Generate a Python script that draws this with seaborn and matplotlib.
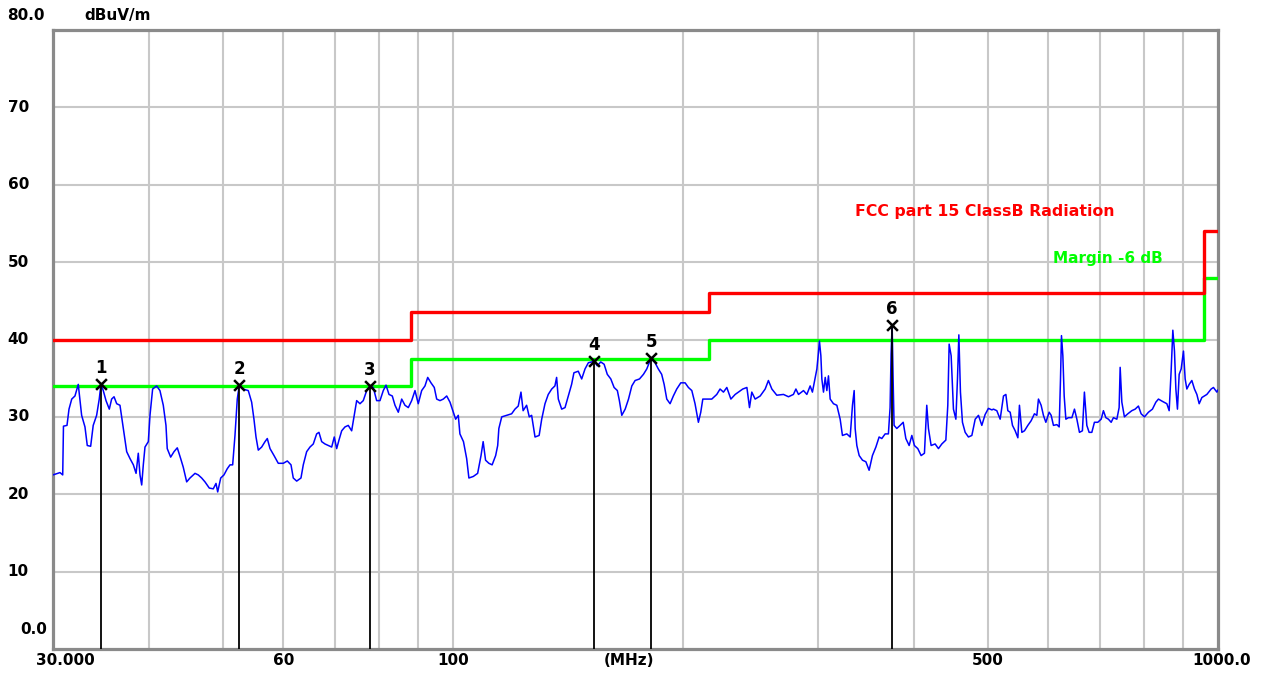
import matplotlib
matplotlib.use('Agg')
import matplotlib.pyplot as plt
from matplotlib.ticker import NullLocator
import seaborn as sns
import pandas as pd

# measured trace, frequency in MHz and level in dBuV/m
trace_freq = [
    30.00, 30.64, 30.89, 30.96, 31.29, 31.48, 31.74, 32.05, 32.37, 32.70,
    33.03, 33.26, 33.60, 33.86, 34.21, 34.48, 34.66, 34.90, 35.19, 35.54,
    35.79, 36.05, 36.34, 36.70, 37.07, 37.45, 37.83, 38.21, 38.52, 38.78,
    38.98, 39.18, 39.37, 39.57, 39.97, 40.17, 40.49, 40.98, 41.39, 41.81,
    42.15, 42.31, 42.75, 43.18, 43.61, 44.06, 44.40, 44.86, 45.31, 46.00,
    46.45, 46.93, 47.40, 48.02, 48.60, 49.00, 49.25, 49.70, 50.19, 50.69,
    51.11, 51.52, 51.88, 52.24, 52.56, 53.10, 54.00, 54.55, 54.93, 55.27,
    55.65, 56.22, 56.79, 57.18, 57.65, 58.35, 59.10, 60.00, 60.73, 61.41,
    61.83, 62.47, 63.28, 63.72, 64.37, 65.02, 65.67, 66.34, 66.80, 67.35,
    68.02, 68.70, 69.41, 69.95, 70.46, 70.95, 71.53, 72.24, 72.96, 73.71,
    74.44, 74.83, 75.58, 76.33, 77.12, 77.89, 78.66, 79.47, 80.27, 81.07,
    81.74, 82.48, 83.30, 83.98, 84.82, 85.69, 86.54, 87.41, 88.30, 89.19,
    90.07, 91.00, 91.91, 92.67, 93.59, 94.52, 95.21, 96.16, 97.12, 98.12,
    99.10, 100.1, 100.8, 101.6, 102.1, 103.2, 104.2, 104.9, 106.3, 107.7,
    108.8, 109.5, 110.3, 111.4, 112.5, 113.7, 114.4, 114.8, 115.8, 117.5,
    119.3, 120.5, 121.7, 122.7, 123.5, 124.8, 125.8, 126.7, 128.0, 129.6,
    130.6, 131.9, 133.2, 134.6, 135.9, 136.6, 137.3, 138.7, 140.1, 141.5,
    142.9, 143.9, 145.8, 147.3, 148.8, 150.3, 151.8, 152.9, 154.4, 156.0,
    157.6, 159.1, 160.8, 162.4, 164.0, 165.0, 166.2, 167.9, 169.6, 171.3,
    173.0, 175.3, 177.4, 179.2, 181.5, 183.7, 185.5, 187.4, 188.8, 190.3,
    192.2, 194.1, 196.1, 198.5, 201.1, 203.1, 205.2, 207.2, 209.3, 210.8,
    212.1, 214.7, 217.9, 221.2, 223.4, 225.7, 228.0, 230.8, 233.8, 236.1,
    239.2, 242.2, 244.1, 245.8, 248.3, 252.1, 255.9, 258.4, 261.1, 265.0,
    270.4, 274.5, 278.6, 280.7, 282.9, 287.2, 290.1, 293.0, 295.0, 297.5,
    299.0, 300.4, 301.3, 302.6, 303.5, 305.0, 306.6, 308.1, 309.6, 311.2,
    314.3, 317.5, 320.7, 322.9, 327.2, 330.5, 332.8, 334.5, 335.5, 337.2,
    339.6, 343.0, 346.5, 349.9, 353.4, 357.1, 360.6, 363.5, 367.2, 370.8,
    372.7, 373.8, 375.0, 376.1, 377.2, 380.3, 384.1, 387.7, 390.8, 394.7,
    397.9, 401.0, 405.1, 409.2, 413.3, 415.0, 416.2, 418.3, 421.7, 426.8,
    431.1, 435.5, 440.8, 443.4, 445.2, 447.9, 451.0, 454.3, 456.5, 458.4,
    460.6, 463.4, 467.2, 471.8, 476.7, 481.5, 486.3, 491.2, 496.1, 501.1,
    506.3, 508.7, 513.9, 519.1, 524.3, 528.1, 531.2, 535.0, 538.7, 543.1,
    547.5, 550.1, 554.1, 558.5, 564.2, 569.8, 575.5, 579.7, 582.5, 587.2,
    591.3, 595.6, 601.6, 605.2, 609.4, 615.7, 620.0, 622.4, 624.3, 626.9,
    629.4, 632.6, 637.6, 644.2, 649.2, 653.9, 659.0, 664.9, 668.9, 673.8,
    678.5, 684.0, 689.4, 696.4, 703.5, 708.3, 713.5, 719.1, 725.0, 730.0,
    737.5, 742.6, 744.9, 748.7, 754.5, 762.3, 771.5, 779.3, 787.0, 793.4,
    801.4, 811.1, 820.9, 829.4, 835.9, 846.1, 857.3, 863.3, 868.4, 872.9,
    877.2, 880.9, 885.1, 889.7, 895.1, 901.3, 905.9, 910.5, 916.9, 924.3,
    931.6, 938.4, 944.9, 952.6, 967.0, 979.6, 986.4, 996.6, 1000.0,
]
trace_level = [
    22.5, 22.8, 22.5, 28.8, 28.9, 31.0, 32.3, 32.7, 34.2, 30.2,
    28.7, 26.3, 26.2, 28.9, 30.2, 32.3, 34.2, 33.4, 32.1, 31.0,
    32.3, 32.6, 31.7, 31.5, 28.5, 25.5, 24.6, 23.8, 22.7, 25.3,
    22.5, 21.2, 23.8, 26.1, 26.8, 30.2, 33.6, 34.0, 33.4, 31.5,
    28.9, 25.9, 24.8, 25.5, 26.0, 24.6, 23.5, 21.6, 22.1, 22.7,
    22.5, 22.1, 21.6, 20.8, 20.7, 21.4, 20.3, 22.1, 22.5, 23.3,
    23.8, 23.8, 27.6, 32.3, 34.1, 33.6, 33.4, 31.9, 29.7, 27.4,
    25.7, 26.1, 26.8, 27.2, 25.9, 25.0, 24.0, 24.0, 24.3, 23.8,
    22.1, 21.7, 22.1, 23.8, 25.5, 26.1, 26.5, 27.8, 28.0, 26.8,
    26.5, 26.3, 26.1, 27.4, 25.9, 27.0, 28.2, 28.7, 28.9, 28.2,
    30.8, 32.1, 31.7, 32.1, 33.4, 34.0, 33.8, 32.1, 32.1, 33.4,
    34.1, 32.9, 32.7, 31.5, 30.6, 32.3, 31.5, 31.2, 32.1, 33.4,
    31.7, 33.4, 34.0, 35.1, 34.4, 33.8, 32.3, 32.1, 32.3, 32.7,
    31.9, 30.6, 29.7, 30.2, 27.8, 26.8, 24.6, 22.1, 22.3, 22.7,
    25.0, 26.8, 24.4, 24.0, 23.8, 25.0, 26.3, 28.5, 30.0, 30.2,
    30.4, 31.0, 31.4, 33.2, 30.8, 31.5, 30.0, 30.2, 27.4, 27.6,
    29.7, 31.7, 32.9, 33.6, 34.0, 35.1, 32.3, 31.0, 31.2, 32.7,
    34.2, 35.7, 35.9, 34.9, 36.2, 37.0, 37.1, 37.2, 36.6, 37.1,
    36.8, 35.5, 34.9, 33.8, 33.4, 32.1, 30.2, 31.0, 32.3, 34.0,
    34.7, 34.9, 35.5, 36.2, 37.6, 37.0, 36.2, 35.5, 34.2, 32.3,
    31.7, 32.7, 33.6, 34.4, 34.4, 33.8, 33.4, 31.7, 29.3, 30.6,
    32.3, 32.3, 32.3, 32.9, 33.6, 33.2, 33.8, 32.3, 32.9, 33.2,
    33.6, 33.8, 31.2, 33.2, 32.3, 32.7, 33.6, 34.7, 33.6, 32.8,
    32.9, 32.6, 32.9, 33.6, 32.9, 33.4, 32.9, 34.0, 33.2, 35.1,
    36.2, 38.3, 39.8, 37.9, 34.9, 33.2, 35.1, 33.4, 35.3, 32.3,
    31.7, 31.5, 29.7, 27.6, 27.8, 27.4, 31.5, 33.4, 28.5, 26.3,
    25.0, 24.4, 24.2, 23.1, 25.0, 26.1, 27.4, 27.2, 27.8, 27.8,
    31.2, 38.1, 41.9, 34.9, 28.9, 28.5, 28.9, 29.3, 27.2, 26.3,
    27.6, 26.3, 25.9, 25.0, 25.3, 28.9, 31.5, 28.5, 26.3, 26.5,
    25.9, 26.5, 27.0, 31.5, 39.4, 37.9, 31.0, 29.7, 34.9, 40.6,
    33.2, 29.3, 28.0, 27.4, 27.6, 29.7, 30.2, 28.9, 30.3, 31.1,
    30.9, 31.0, 30.8, 29.7, 32.7, 32.9, 30.8, 30.6, 28.9, 28.2,
    27.3, 31.5, 28.0, 28.2, 28.9, 29.5, 30.4, 30.2, 32.3, 31.5,
    30.2, 29.3, 30.6, 30.2, 28.9, 29.0, 28.7, 34.7, 40.5, 37.9,
    32.7, 29.7, 29.9, 29.9, 31.0, 29.7, 28.0, 28.2, 33.2, 28.9,
    28.0, 28.0, 29.3, 29.3, 29.7, 30.8, 29.9, 29.7, 29.3, 29.9,
    29.7, 31.2, 36.4, 31.9, 30.0, 30.4, 30.8, 31.0, 31.4, 30.4,
    30.0, 30.6, 31.0, 31.9, 32.3, 32.0, 31.7, 30.8, 35.9, 41.2,
    38.5, 33.6, 31.0, 35.5, 36.2, 38.5, 34.9, 33.6, 34.2, 34.7,
    33.6, 32.9, 31.7, 32.5, 32.9, 33.6, 33.8, 33.2, 33.5,
]

# FCC part 15 class B limit and the -6 dB margin line
limit_freq = [30, 88, 216, 960, 1000]
limit_level = [40, 43.5, 46, 54, 54]
margin_level = [34, 37.5, 40, 48, 48]

# peak markers
marker_no = ["1", "2", "3", "4", "5", "6"]
marker_freq = [34.66, 52.56, 77.89, 152.9, 181.5, 375.0]
marker_level = [34.2, 34.1, 34.0, 37.2, 37.6, 41.9]

grid_freq = [40, 50, 60, 70, 80, 90, 100, 200, 300, 400, 500, 600, 700, 800, 900]
grid_level = [10, 20, 30, 40, 50, 60, 70]
x_labels = ["60", "100", "500"]
x_label_freq = [60, 100, 500]
y_labels = ["70", "60", "50", "40", "30", "20", "10"]
y_label_level = [70, 60, 50, 40, 30, 20, 10]

sns.set_style("white")
plt.rcParams['font.family'] = ['DejaVu Sans']

fig = plt.figure(figsize=(12.74, 6.75), dpi=100)
ax = fig.add_axes([53 / 1274, 1 - 649 / 675, 1165 / 1274, 619 / 675])
ax.set_xscale('log')

trace = pd.DataFrame({"freq": trace_freq, "level": trace_level})
limits = pd.DataFrame({"freq": limit_freq, "limit": limit_level, "margin": margin_level})

sns.lineplot(data=limits, x="freq", y="margin", drawstyle='steps-post', color='#00ff00',
             linewidth=2.4, ax=ax, zorder=3)
sns.lineplot(data=limits, x="freq", y="limit", drawstyle='steps-post', color='#ff0000',
             linewidth=2.4, ax=ax, zorder=3)
sns.lineplot(data=trace, x="freq", y="level", estimator=None, sort=False, color='#0000ff',
             linewidth=1.1, ax=ax, zorder=4)

ax.vlines(marker_freq, 0, marker_level, color='black', linewidth=1.3, zorder=5)
sns.scatterplot(x=marker_freq, y=marker_level, marker='x', s=60, color='black',
                linewidth=1.8, ax=ax, zorder=6)
for no, f, lv in zip(marker_no, marker_freq, marker_level):
    ax.text(f, lv + 2.1, no, ha='center', va='center', fontsize=12, fontweight='bold',
            color='black', zorder=6)

ax.set_xlim(30, 1000)
ax.set_ylim(0, 80)
ax.set_xticks(grid_freq)
ax.set_yticks(grid_level)
ax.xaxis.set_minor_locator(NullLocator())
ax.set_xticklabels([])
ax.set_yticklabels([])
ax.tick_params(length=0)
ax.grid(True, color='#c8c8c8', linewidth=1.5, zorder=0)
ax.set_axisbelow(True)
ax.set_xlabel("")
ax.set_ylabel("")
for sp in ax.spines.values():
    sp.set_color('#8a8a8a')
    sp.set_linewidth(2.3)

# axis texts, placed like the receiver software does it
lab = dict(fontsize=11, fontweight='bold', color='black', clip_on=False)
ytr = ax.get_yaxis_transform()
xtr = ax.get_xaxis_transform()
for t, lv in zip(y_labels, y_label_level):
    ax.text(-0.039, lv, t, transform=ytr, ha='left', va='center', **lab)
ax.text(-0.005, 2.5, "0.0", transform=ytr, ha='right', va='center', **lab)
ax.text(-0.039, 81.9, "80.0", transform=ytr, ha='left', va='center', **lab)
ax.text(0.027, 81.9, "dBuV/m", transform=ytr, ha='left', va='center', **lab)
for t, f in zip(x_labels, x_label_freq):
    ax.text(f, -0.018, t, transform=xtr, ha='center', va='center', **lab)
ax.text(31.1, -0.018, "30.000", transform=xtr, ha='center', va='center', **lab)
ax.text(170, -0.018, "(MHz)", transform=xtr, ha='center', va='center', **lab)
ax.text(1010, -0.018, "1000.0", transform=xtr, ha='center', va='center', **lab)

ax.text(335.5, 56.6, "FCC part 15 ClassB Radiation", ha='left', va='center',
        fontsize=11.3, fontweight='bold', color='#ff0000')
ax.text(608.9, 50.5, "Margin -6 dB", ha='left', va='center',
        fontsize=11, fontweight='bold', color='#00ff00')

fig.savefig("out.png", dpi=100, facecolor='white')
plt.close(fig)
